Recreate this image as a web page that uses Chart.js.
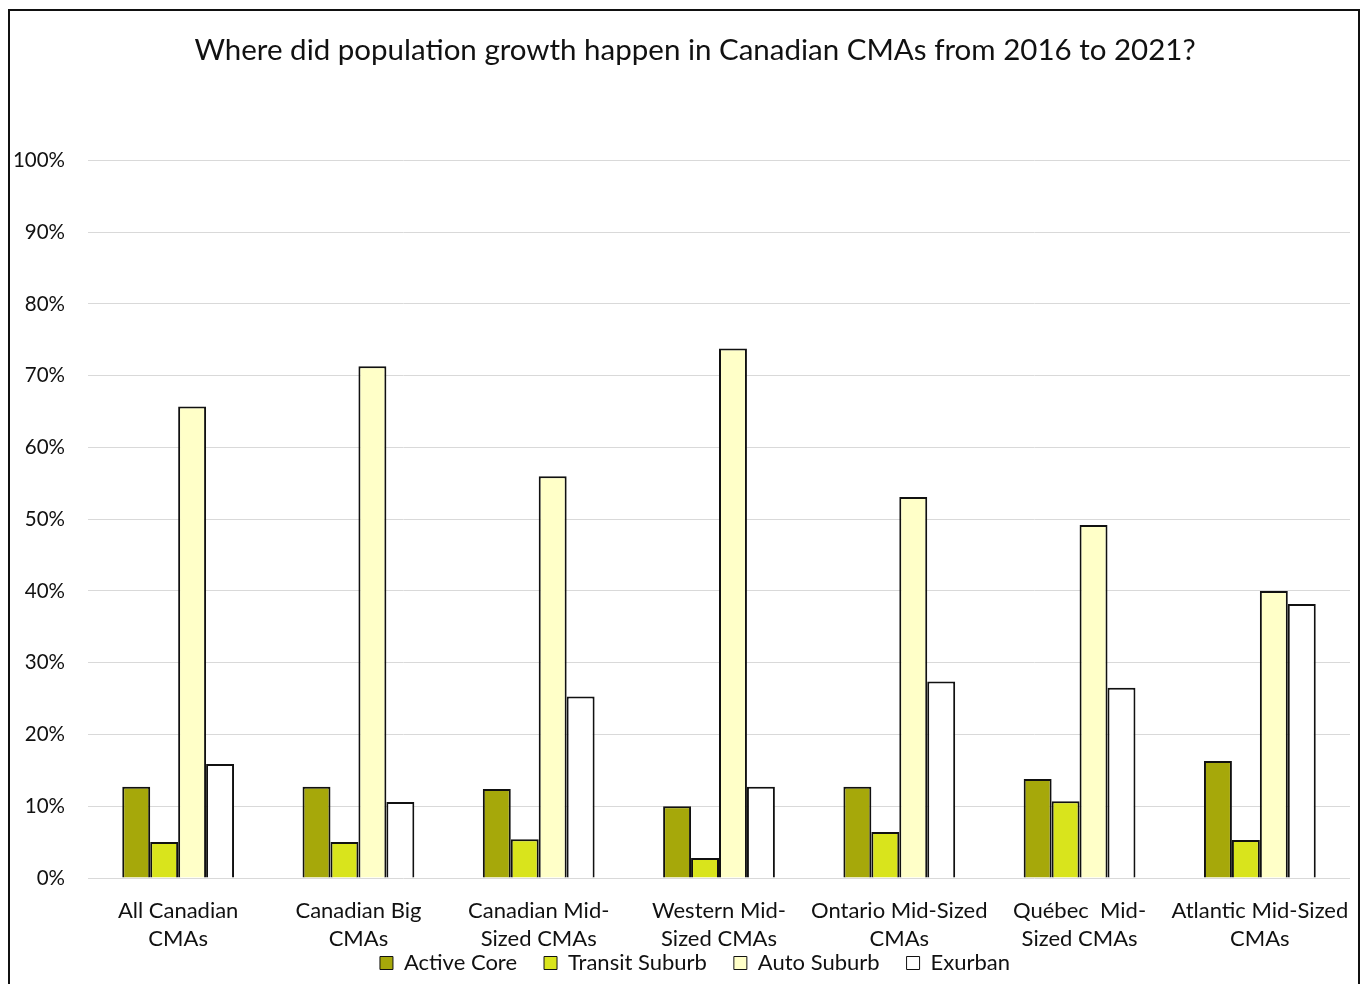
<!DOCTYPE html>
<html>
<head>
<meta charset="utf-8">
<script src="https://cdn.jsdelivr.net/npm/chart.js@4.4.1/dist/chart.umd.min.js"></script>
<style>
  html, body { margin: 0; padding: 0; background: #fff; }
  #wrap { position: relative; width: 1362px; height: 984px; overflow: hidden; background: #fff; }
  #frame { position: absolute; left: 8px; top: 9px; width: 1352px; height: 1000px;
           border: 2px solid #111; box-sizing: border-box; pointer-events: none; }
  canvas { position: absolute; left: 0; top: 0; }
</style>
</head>
<body>
<div id="wrap">
  <canvas id="c" width="1362" height="984"></canvas>
  <div id="frame"></div>
</div>
<script>
const categories = [
  ["All Canadian", "CMAs"],
  ["Canadian Big", "CMAs"],
  ["Canadian Mid-", "Sized CMAs"],
  ["Western Mid-", "Sized CMAs"],
  ["Ontario Mid-Sized", "CMAs"],
  ["Québec  Mid-", "Sized CMAs"],
  ["Atlantic Mid-Sized", "CMAs"]
];
const activeCore    = [12.7, 12.7, 12.4, 10.0, 12.7, 13.8, 16.3];
const transitSuburb = [5.0, 5.0, 5.4, 2.8, 6.4, 10.7, 5.3];
const autoSuburb    = [65.7, 71.3, 56.0, 73.8, 53.1, 49.2, 40.0];
const exurban       = [15.9, 10.6, 25.3, 12.7, 27.4, 26.5, 38.2];
const yTicks = [0, 10, 20, 30, 40, 50, 60, 70, 80, 90, 100];
const titleText = "Where did population growth happen in Canadian CMAs from 2016 to 2021?";

const FONT = "Lato, 'Open Sans', sans-serif";

function ds(label, data, color) {
  return {
    label, data,
    backgroundColor: color,
    borderColor: '#111',
    borderWidth: 2,
    categoryPercentage: 0.62,
    barPercentage: 1.0
  };
}

new Chart(document.getElementById('c'), {
  type: 'bar',
  data: {
    labels: categories,
    datasets: [
      ds('Active Core', activeCore, '#a6a80a'),
      ds('Transit Suburb', transitSuburb, '#d9e41c'),
      ds('Auto Suburb', autoSuburb, '#ffffc8'),
      ds('Exurban', exurban, '#ffffff')
    ]
  },
  options: {
    responsive: false,
    animation: false,
    layout: { padding: { left: 40, right: 12, top: 0, bottom: 0 } },
    plugins: {
      title: {
        display: true,
        text: titleText,
        color: '#111',
        font: { family: FONT, size: 29.5, weight: 'normal', lineHeight: 1.2 },
        padding: { top: 33, bottom: 92 }
      },
      legend: {
        position: 'bottom',
        labels: {
          color: '#111',
          font: { family: FONT, size: 22 },
          boxWidth: 13,
          boxHeight: 13,
          padding: 27,
          generateLabels(chart) {
            return chart.data.datasets.map((d, i) => ({
              text: d.label,
              fillStyle: d.backgroundColor,
              strokeStyle: '#111',
              lineWidth: 1,
              hidden: false,
              datasetIndex: i,
              fontColor: '#111'
            }));
          }
        }
      },
      tooltip: { enabled: false }
    },
    scales: {
      x: {
        grid: { display: false, drawTicks: false },
        border: { display: false },
        ticks: {
          autoSkip: false, maxRotation: 0, minRotation: 0,
          color: '#111', padding: 19,
          font: { family: FONT, size: 22, lineHeight: 1.27 }
        },
        afterFit(s) {
          s.height = 47;
          s.paddingLeft = 0; s.paddingRight = 0;
          s._computeLabelArea = () => undefined;
        }
      },
      y: {
        min: 0, max: 100,
        afterBuildTicks(s) { s.ticks = yTicks.map(v => ({ value: v })); },
        grid: { color: '#d9d9d9', lineWidth: 1, drawTicks: false },
        border: { display: false },
        ticks: {
          color: '#111', padding: 23,
          font: { family: FONT, size: 20.5 },
          callback: v => v + '%'
        },
        afterFit(s) {
          s.width = 48;
          s.paddingTop = 0; s.paddingBottom = 0;
          s._computeLabelArea = () => undefined;
        }
      }
    }
  }
});
</script>
</body>
</html>
